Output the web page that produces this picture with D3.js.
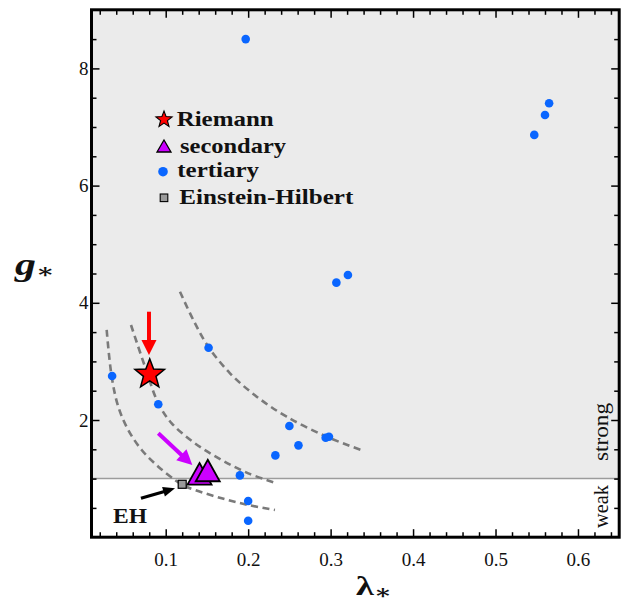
<!DOCTYPE html>
<html>
<head>
<meta charset="utf-8">
<script src="https://cdn.jsdelivr.net/npm/d3@7"></script>
<style>
  html, body { margin: 0; padding: 0; background: #ffffff; }
  svg { display: block; }
</style>
</head>
<body>
<script>
// ---------------- data ----------------
const xDomain = [0.01, 0.65];
const yDomain = [0, 9];
const xMajorTicks = [0.1, 0.2, 0.3, 0.4, 0.5, 0.6];
const xTickLabels = ["0.1", "0.2", "0.3", "0.4", "0.5", "0.6"];
const xMinorTicks = [0.02,0.04,0.06,0.08,0.12,0.14,0.16,0.18,0.22,0.24,0.26,0.28,0.32,0.34,0.36,0.38,0.42,0.44,0.46,0.48,0.52,0.54,0.56,0.58,0.62,0.64];
const yMajorTicks = [2, 4, 6, 8];
const yTickLabels = ["2", "4", "6", "8"];
const yMinorTicks = [0.5,1,1.5,2.5,3,3.5,4.5,5,5.5,6.5,7,7.5,8.5];
const strongThreshold = 1;

const tertiaryLambda = [0.197, 0.547, 0.560, 0.565, 0.307, 0.321, 0.035, 0.091, 0.152, 0.250, 0.261, 0.233, 0.294, 0.298, 0.190, 0.200, 0.200];
const tertiaryG      = [8.50, 6.865, 7.206, 7.406, 4.344, 4.475, 2.751, 2.268, 3.234, 1.897, 1.567, 1.396, 1.698, 1.714, 1.055, 0.617, 0.281];
const riemannLambda = [0.0806];
const riemannG      = [2.78];
const secondaryLambda = [0.141, 0.151];
const secondaryG      = [1.082, 1.138];
const ehLambda = [0.120];
const ehG      = [0.903];

// dashed guide curves
const curveA = [[0.0284,3.537],[0.0345,2.739],[0.0425,2.227],[0.0546,1.829],[0.0709,1.488],[0.0910,1.203],[0.1113,0.976],[0.1201,0.891],[0.1355,0.805],[0.1679,0.664],[0.2002,0.549],[0.2325,0.464]];
const curveB = [[0.0579,3.621],[0.0749,2.909],[0.0910,2.285],[0.1073,1.944],[0.1355,1.602],[0.1679,1.317],[0.2002,1.090],[0.2346,0.920]];
const curveC = [[0.1173,4.189],[0.1335,3.706],[0.1517,3.251],[0.1780,2.797],[0.2104,2.398],[0.2467,2.056],[0.2952,1.715],[0.3396,1.476]];

// annotation arrows [fromLambda, fromG, toLambda, toG]
const arrowRed     = [0.0797, 3.848, 0.0797, 3.109];
const arrowMagenta = [0.0910, 1.773, 0.1323, 1.232];
const arrowBlack   = [0.0700, 0.664, 0.1113, 0.834];

const legendLabels = ["Riemann", "secondary", "tertiary", "Einstein-Hilbert"];

// ---------------- drawing ----------------
const W = 621, H = 602;
const svg = d3.select("body").append("svg").attr("width", W).attr("height", H);

const x = d3.scaleLinear().domain(xDomain).range([91.5, 619.2]);
const y = d3.scaleLinear().domain(yDomain).range([537.2, 9.8]);

const serif = "'Liberation Serif', 'DejaVu Serif', serif";
const cBlue = "#0a66ff", cRed = "#ff0000", cMag = "#cc00ff", cGrayFill = "#9a9a9a";

// backgrounds
svg.append("rect").attr("x", x(xDomain[0])).attr("y", y(yDomain[1]))
  .attr("width", x(xDomain[1]) - x(xDomain[0])).attr("height", y(yDomain[0]) - y(yDomain[1]))
  .attr("fill", "#ffffff");
svg.append("rect").attr("x", x(xDomain[0])).attr("y", y(yDomain[1]))
  .attr("width", x(xDomain[1]) - x(xDomain[0])).attr("height", y(strongThreshold) - y(yDomain[1]))
  .attr("fill", "#ebebeb");
svg.append("line").attr("x1", x(xDomain[0])).attr("x2", x(xDomain[1]))
  .attr("y1", y(strongThreshold)).attr("y2", y(strongThreshold))
  .attr("stroke", "#9c9c9c").attr("stroke-width", 1.5);

// dashed curves
const line = d3.line().x(d => x(d[0])).y(d => y(d[1])).curve(d3.curveCatmullRom.alpha(0.5));
[curveA, curveB, curveC].forEach(c => {
  svg.append("path").attr("d", line(c)).attr("fill", "none")
    .attr("stroke", "#7a7a7a").attr("stroke-width", 2.6).attr("stroke-dasharray", "7,4.5");
});

// tertiary points
svg.append("g").selectAll("circle").data(tertiaryLambda.map((l, i) => [l, tertiaryG[i]]))
  .join("circle").attr("cx", d => x(d[0])).attr("cy", d => y(d[1])).attr("r", 4.3).attr("fill", cBlue);

// arrows
function arrow(a, color, w, headLen, headW) {
  const x1 = x(a[0]), y1 = y(a[1]), x2 = x(a[2]), y2 = y(a[3]);
  const dx = x2 - x1, dy = y2 - y1, L = Math.hypot(dx, dy);
  const ux = dx / L, uy = dy / L, px = -uy, py = ux;
  const bx = x2 - ux * headLen, by = y2 - uy * headLen;
  svg.append("line").attr("x1", x1).attr("y1", y1).attr("x2", bx + ux).attr("y2", by + uy)
    .attr("stroke", color).attr("stroke-width", w);
  svg.append("path").attr("d", `M${x2},${y2}L${bx + px * headW / 2},${by + py * headW / 2}L${bx - px * headW / 2},${by - py * headW / 2}Z`)
    .attr("fill", color);
}
arrow(arrowRed, cRed, 4, 15, 15);
arrow(arrowMagenta, cMag, 4, 15, 15);
arrow(arrowBlack, "#000000", 3.2, 12, 10);

// marker shapes
function starPath(R, r) {
  const p = [];
  for (let i = 0; i < 10; i++) {
    const rad = i % 2 === 0 ? R : r;
    const a = -Math.PI / 2 + i * Math.PI / 5;
    p.push([rad * Math.cos(a), rad * Math.sin(a)]);
  }
  return "M" + p.map(q => q.join(",")).join("L") + "Z";
}
function triPath(w, h) { return `M0,${-h / 2}L${w / 2},${h / 2}L${-w / 2},${h / 2}Z`; }

// EH square
svg.append("g").selectAll("rect").data(ehLambda.map((l, i) => [l, ehG[i]])).join("rect")
  .attr("x", d => x(d[0]) - 4).attr("y", d => y(d[1]) - 4).attr("width", 8).attr("height", 8)
  .attr("fill", cGrayFill).attr("stroke", "#000").attr("stroke-width", 1.2);

// secondary triangles
svg.append("g").selectAll("path").data(secondaryLambda.map((l, i) => [l, secondaryG[i]])).join("path")
  .attr("transform", d => `translate(${x(d[0])},${y(d[1])})`).attr("d", triPath(24, 21.5))
  .attr("fill", cMag).attr("stroke", "#000").attr("stroke-width", 1.8).attr("stroke-linejoin", "miter");

// Riemann star
svg.append("g").selectAll("path").data(riemannLambda.map((l, i) => [l, riemannG[i]])).join("path")
  .attr("transform", d => `translate(${x(d[0])},${y(d[1])})`).attr("d", starPath(15.5, 6.6))
  .attr("fill", cRed).attr("stroke", "#000").attr("stroke-width", 1.5);

// axes (ticks inside, all four sides)
const fmtX = d => xTickLabels[xMajorTicks.indexOf(d)];
const fmtY = d => yTickLabels[yMajorTicks.indexOf(d)];
function styleAxis(g) {
  g.select(".domain").remove();
  g.selectAll("line").attr("stroke", "#000").attr("stroke-width", 1.5);
  g.selectAll("text").attr("font-family", serif).attr("font-size", 19).attr("fill", "#111");
}
svg.append("g").attr("transform", `translate(0,${y(0)})`)
  .call(d3.axisBottom(x).tickValues(xMajorTicks).tickSize(-8).tickPadding(15).tickFormat(fmtX)).call(styleAxis);
svg.append("g").attr("transform", `translate(0,${y(0)})`)
  .call(d3.axisBottom(x).tickValues(xMinorTicks).tickSize(-5).tickFormat("")).call(styleAxis);
svg.append("g").attr("transform", `translate(0,${y(9)})`)
  .call(d3.axisTop(x).tickValues(xMajorTicks).tickSize(-8).tickFormat("")).call(styleAxis);
svg.append("g").attr("transform", `translate(0,${y(9)})`)
  .call(d3.axisTop(x).tickValues(xMinorTicks).tickSize(-5).tickFormat("")).call(styleAxis);
svg.append("g").attr("transform", `translate(${x(xDomain[0])},0)`)
  .call(d3.axisLeft(y).tickValues(yMajorTicks).tickSize(-8).tickPadding(3).tickFormat(fmtY)).call(styleAxis);
svg.append("g").attr("transform", `translate(${x(xDomain[0])},0)`)
  .call(d3.axisLeft(y).tickValues(yMinorTicks).tickSize(-5).tickFormat("")).call(styleAxis);
svg.append("g").attr("transform", `translate(${x(xDomain[1])},0)`)
  .call(d3.axisRight(y).tickValues(yMajorTicks).tickSize(-8).tickFormat("")).call(styleAxis);
svg.append("g").attr("transform", `translate(${x(xDomain[1])},0)`)
  .call(d3.axisRight(y).tickValues(yMinorTicks).tickSize(-5).tickFormat("")).call(styleAxis);

// frame
svg.append("rect").attr("x", x(xDomain[0])).attr("y", y(yDomain[1]))
  .attr("width", x(xDomain[1]) - x(xDomain[0])).attr("height", y(yDomain[0]) - y(yDomain[1]))
  .attr("fill", "none").attr("stroke", "#000").attr("stroke-width", 3);

// strong / weak
svg.append("text").attr("transform", `translate(608,432) rotate(-90)`).attr("text-anchor", "middle")
  .attr("font-family", serif).attr("font-size", 21).attr("fill", "#111")
  .attr("textLength", 58).attr("lengthAdjust", "spacingAndGlyphs").text("strong");
svg.append("text").attr("transform", `translate(608,506.5) rotate(-90)`).attr("text-anchor", "middle")
  .attr("font-family", serif).attr("font-size", 21).attr("fill", "#111")
  .attr("textLength", 43).attr("lengthAdjust", "spacingAndGlyphs").text("weak");

// EH label
svg.append("text").attr("x", 113).attr("y", 522.7).attr("font-family", serif).attr("font-weight", "bold")
  .attr("font-size", 22).attr("fill", "#111").attr("textLength", 34).attr("lengthAdjust", "spacingAndGlyphs").text("EH");

// axis titles
const gl = svg.append("text").attr("transform", "translate(15,275) scale(1.35,1)")
  .attr("font-family", serif).attr("font-weight", "bold").attr("fill", "#111");
gl.append("tspan").attr("font-style", "italic").attr("font-size", 31).text("g");
gl.append("tspan").attr("font-size", 20).attr("dy", 3).text("\u2217");

const ll = svg.append("text").attr("transform", "translate(356,595) scale(1.3,1)")
  .attr("font-family", serif).attr("font-weight", "bold").attr("fill", "#111");
ll.append("tspan").attr("font-size", 28).text("\u03bb");
ll.append("tspan").attr("font-size", 20).attr("dy", 4).text("\u2217");

// legend
const legY = [126, 153, 177, 204];
const legX = [176.7, 180, 177.3, 179.3];
const legW = [97, 106, 81.7, 174];
const lg = svg.append("g");
legendLabels.forEach((t, i) => {
  lg.append("text").attr("x", legX[i]).attr("y", legY[i]).attr("font-family", serif)
    .attr("font-weight", "bold").attr("font-size", 21).attr("fill", "#111")
    .attr("textLength", legW[i]).attr("lengthAdjust", "spacingAndGlyphs").text(t);
});
lg.append("path").attr("transform", "translate(164,119.5)").attr("d", starPath(8.5, 3.6))
  .attr("fill", cRed).attr("stroke", "#000").attr("stroke-width", 1.1);
lg.append("path").attr("transform", "translate(164,146)").attr("d", triPath(14, 12))
  .attr("fill", cMag).attr("stroke", "#000").attr("stroke-width", 1.3);
lg.append("circle").attr("cx", 163).attr("cy", 171.7).attr("r", 4.8).attr("fill", cBlue);
lg.append("rect").attr("x", 160.2).attr("y", 194).attr("width", 7.6).attr("height", 7.6)
  .attr("fill", cGrayFill).attr("stroke", "#000").attr("stroke-width", 1.1);
</script>
</body>
</html>
